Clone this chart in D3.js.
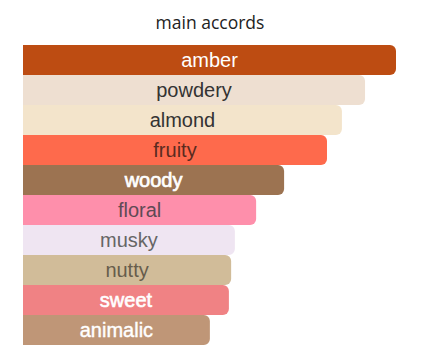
<!DOCTYPE html>
<html><head><meta charset="utf-8">
<script src="https://cdn.jsdelivr.net/npm/d3@7"></script>
<style>body{margin:0;background:#fff}svg{display:block}</style>
</head><body>
<script>
const accords = ["amber","powdery","almond","fruity","woody","floral","musky","nutty","sweet","animalic"];
const values = [100, 91.7, 85.5, 81.5, 70, 62.5, 56.8, 55.8, 55.2, 50.1];
const barColors = ["#bd4c12","#eedfd1","#f3e4cb","#fe6a4c","#9c7351","#fe8fab","#efe5f2","#d1bc99","#f08284","#bf9677"];
const textColors = ["#ffffff","#333333","#333333","#5a2b20","#ffffff","#5e4a55","#666666","#675d4c","#ffffff","#ffffff"];
const strokeW = [0,0,0,0,0.7,0,0,0,0.6,0.4];
const title = "main accords";

const W = 421, H = 361;
const svg = d3.select("body").append("svg").attr("width", W).attr("height", H);

svg.append("text").attr("x", 210).attr("y", 29).attr("text-anchor","middle")
  .attr("font-family","'Open Sans', sans-serif").attr("font-size",17.5).attr("fill","#222").text(title);

const x = d3.scaleLinear().domain([0,100]).range([23,396]);
const y = d3.scaleBand().domain(accords).range([45,345]).padding(0);
const r = 6;

function barPath(x0, x1, y0, h){
  const rr = Math.min(r, (x1-x0));
  return `M${x0},${y0}H${x1-rr}A${rr},${rr} 0 0 1 ${x1},${y0+rr}V${y0+h-rr}A${rr},${rr} 0 0 1 ${x1-rr},${y0+h}H${x0}Z`;
}

const g = svg.append("g");
accords.forEach((a,i)=>{
  g.append("path").attr("d", barPath(x(0), x(values[i]), y(a), y.bandwidth())).attr("fill", barColors[i]);
});
accords.forEach((a,i)=>{
  const t = g.append("text").attr("x",(x(0)+x(values[i]))/2).attr("y", y(a)+y.bandwidth()/2)
    .attr("dy","0.35em").attr("text-anchor","middle")
    .attr("font-family","'Liberation Sans', Arial, sans-serif").attr("font-size",20)
    .attr("fill",textColors[i]).text(a);
  if(strokeW[i]>0) t.attr("stroke",textColors[i]).attr("stroke-width",strokeW[i]);
});
</script>
</body></html>
